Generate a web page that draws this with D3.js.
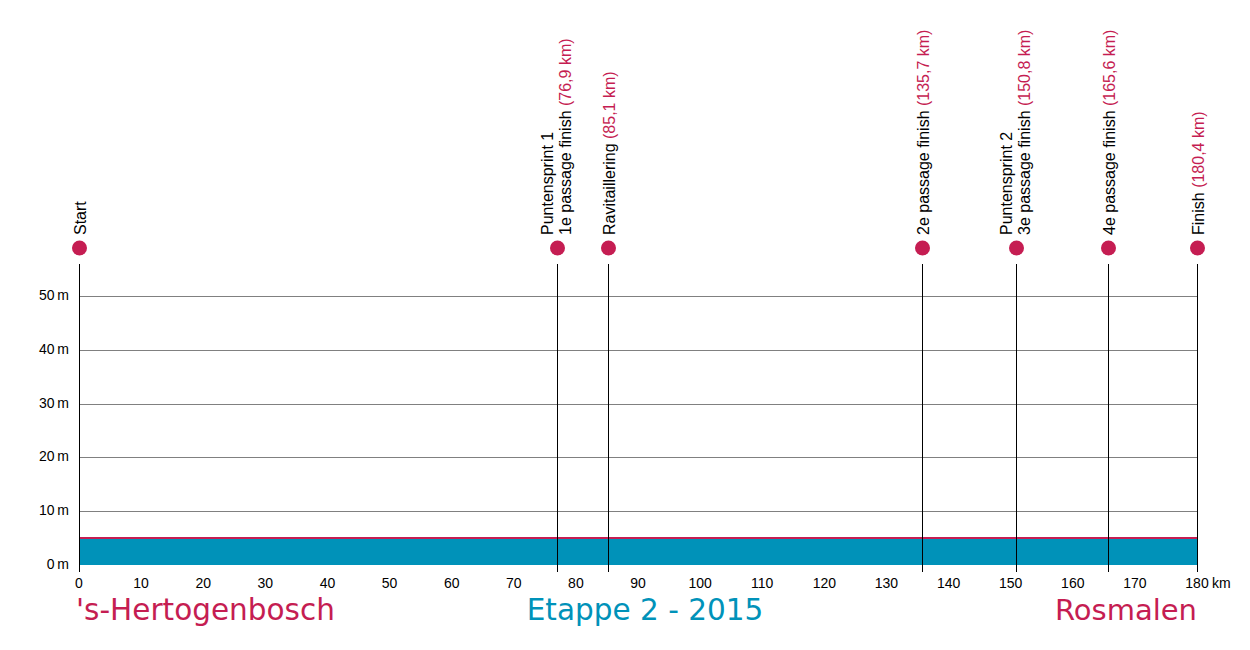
<!DOCTYPE html>
<html><head><meta charset="utf-8">
<script src="https://cdn.jsdelivr.net/npm/d3@7"></script>
<style>body{margin:0;background:#fff}svg{display:block}</style>
</head><body>
<svg id="c" width="1250" height="650"></svg>
<script>
const kmTicks = [0,10,20,30,40,50,60,70,80,90,100,110,120,130,140,150,160,170,180];
const elevTicks = [0,10,20,30,40,50];
const profileKm = [0, 180.4];
const profileElev = [5, 5];
const markerKm = [0, 76.9, 85.1, 135.7, 150.8, 165.6, 180.4];
const markerLine1 = ["", "Puntensprint 1", "", "", "Puntensprint 2", "", ""];
const markerLine2 = ["Start", "1e passage finish", "Ravitaillering", "2e passage finish", "3e passage finish", "4e passage finish", "Finish"];
const markerShowKm = [false, true, true, true, true, true, true];
const startTown = "'s-Hertogenbosch";
const finishTown = "Rosmalen";
const title = "Etappe 2 - 2015";

const RED = "#c51d52", BLUE = "#0092b9";
const svg = d3.select("#c");
const x = d3.scaleLinear().domain([0, 180]).range([79, 1197]);
const y = d3.scaleLinear().domain([0, 50]).range([565, 296]);
const font = "Liberation Sans, Arial, sans-serif";

// grid
svg.append("g").selectAll("line").data(elevTicks.filter(d => d > 0)).join("line")
  .attr("x1", x(0)).attr("x2", x(180)).attr("y1", d => Math.round(y(d)) + 0.5).attr("y2", d => Math.round(y(d)) + 0.5)
  .attr("stroke", "#808080").attr("stroke-width", 1);

// profile area
const pts = profileKm.map((k, i) => [Math.min(k, 180), profileElev[i]]);
svg.append("path").datum(pts)
  .attr("d", d3.area().x(d => x(d[0])).y0(y(0)).y1(d => y(d[1])))
  .attr("fill", BLUE);
svg.append("path").datum(pts)
  .attr("d", d3.line().x(d => x(d[0])).y(d => y(d[1])))
  .attr("stroke", RED).attr("stroke-width", 2).attr("fill", "none");

// y tick labels
svg.append("g").selectAll("text").data(elevTicks).join("text")
  .attr("x", 69).attr("y", d => y(d) + 4)
  .attr("text-anchor", "end").attr("font-family", font).attr("font-size", 14).attr("fill", "#000")
  .text(d => d + "\u2009m");

// x tick labels
svg.append("g").selectAll("text").data(kmTicks).join("text")
  .attr("x", d => x(d)).attr("y", 588)
  .attr("text-anchor", "middle").attr("font-family", font).attr("font-size", 14).attr("fill", "#000")
  .text(d => d);
svg.append("text").attr("x", x(180) + 15).attr("y", 588).attr("font-family", font).attr("font-size", 14)
  .attr("fill", "#000").text("km");

// markers
const mg = svg.append("g").selectAll("g").data(markerKm).join("g")
  .attr("transform", d => `translate(${Math.round(x(Math.min(d,180)))+0.5},0)`);
mg.append("line").attr("y1", 264).attr("y2", 572).attr("stroke", "#000");
mg.append("circle").attr("cy", 248).attr("r", 7.5).attr("fill", RED);
mg.each(function(d, i) {
  const g = d3.select(this);
  const two = !!markerLine1[i];
  const t2 = g.append("text").attr("transform", `translate(${two ? 13 : 6},235) rotate(-90)`)
    .attr("font-family", font).attr("font-size", 16).attr("fill", "#000");
  t2.append("tspan").text(markerLine2[i]);
  if (markerShowKm[i]) {
    t2.append("tspan").attr("fill", RED).text(" (" + d3.format(".1f")(d).replace(".", ",") + " km)");
  }
  if (two) {
    g.append("text").attr("transform", "translate(-5,235) rotate(-90)")
      .attr("font-family", font).attr("font-size", 16).attr("fill", "#000").text(markerLine1[i]);
  }
});

// bottom texts
const tf = "DejaVu Sans, Verdana, sans-serif";
svg.append("text").attr("x", 76).attr("y", 620).attr("font-family", tf).attr("font-size", 29.5)
  .attr("fill", RED).text(startTown);
svg.append("text").attr("x", 645).attr("y", 620).attr("text-anchor", "middle").attr("font-family", tf)
  .attr("font-size", 29.5).attr("fill", BLUE).text(title);
svg.append("text").attr("x", 1197).attr("y", 620).attr("text-anchor", "end").attr("font-family", tf)
  .attr("font-size", 29).attr("fill", RED).text(finishTown);
</script>
</body></html>
